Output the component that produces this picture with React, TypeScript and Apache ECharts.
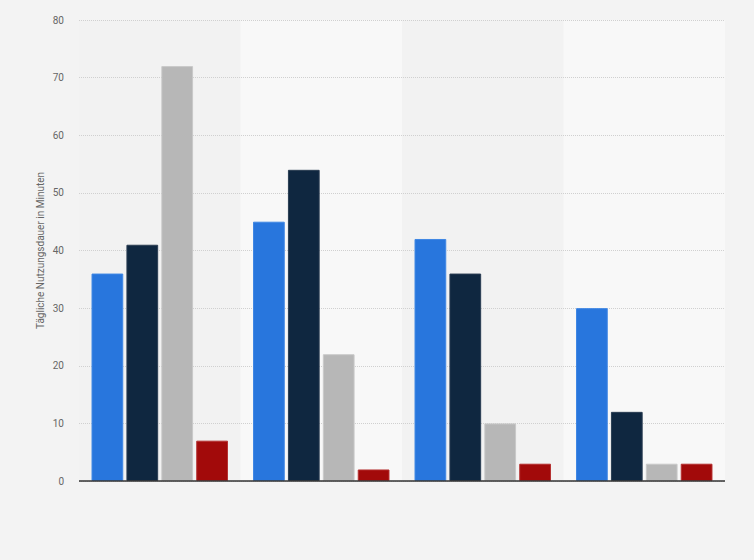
import React, { useEffect, useRef } from "react";
import * as echarts from "echarts";

const categories = ["Gruppe 1", "Gruppe 2", "Gruppe 3", "Gruppe 4"];
const seriesNames = ["Serie A", "Serie B", "Serie C", "Serie D"];
const seriesA = [36, 45, 42, 30];
const seriesB = [41, 54, 36, 12];
const seriesC = [72, 22, 10, 3];
const seriesD = [7, 2, 3, 3];
const seriesColors = ["#2876dd", "#0f2740", "#b7b7b7", "#a20a0a"];
const borderColors = ["#3f87e4", "#2a3d52", "#c9c9c9", "#b43030"];
const yTitle = "Tägliche Nutzungsdauer in Minuten";

export default function App() {
  const ref = useRef<HTMLDivElement>(null);
  useEffect(() => {
    if (!ref.current) return;
    const chart = echarts.init(ref.current, null, { renderer: "svg" });
    const values = [seriesA, seriesB, seriesC, seriesD];
    chart.setOption({
      animation: false,
      backgroundColor: "#f3f3f3",
      grid: { left: 79, right: 29, top: 20, bottom: 79 },
      xAxis: {
        type: "category",
        data: categories,
        z: 0,
        axisLine: { show: false },
        axisTick: { show: false },
        axisLabel: { show: false },
        splitArea: { show: true, areaStyle: { color: ["#f2f2f2", "#f8f8f8"] } },
      },
      yAxis: {
        type: "value",
        min: 0,
        max: 80,
        interval: 10,
        z: 1,
        name: yTitle,
        nameLocation: "middle",
        nameMoveOverlap: false,
        nameGap: 34,
        nameTextStyle: { color: "#666666", fontSize: 10, fontFamily: "Roboto, Arial, sans-serif" },
        axisLine: { show: false },
        axisTick: { show: false },
        axisLabel: { color: "#666666", fontSize: 10, margin: 15, fontFamily: "Roboto, Arial, sans-serif" },
        splitLine: { show: true, lineStyle: { color: "#d0d0d0", type: "dotted", width: 1 } },
      },
      series: values.map((v, i) => ({
        name: seriesNames[i],
        type: "bar",
        data: v,
        z: 2,
        barGap: "10%",
        barCategoryGap: "15.5%",
        itemStyle: { color: seriesColors[i], borderColor: borderColors[i], borderWidth: 1 },
        markLine:
          i === 0
            ? {
                silent: true,
                symbol: "none",
                label: { show: false },
                lineStyle: { color: "#333333", type: "solid", width: 1.5 },
                data: [{ yAxis: 0 }],
              }
            : undefined,
      })),
    });
    return () => chart.dispose();
  }, []);
  return (
    <div
      ref={ref}
      style={{ position: "fixed", left: 0, top: 0, width: 754, height: 560 }}
    />
  );
}
